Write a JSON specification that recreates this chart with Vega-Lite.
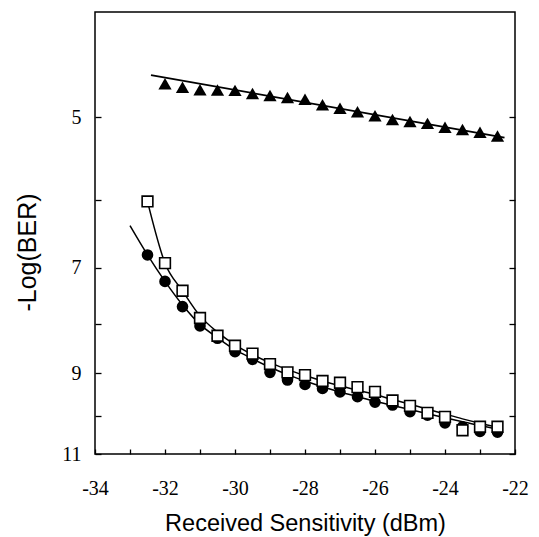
{
  "$schema": "https://vega.github.io/schema/vega-lite/v6.json",
  "width": 420,
  "height": 442,
  "autosize": "none",
  "padding": {"left": 95, "top": 12, "right": 24, "bottom": 83},
  "background": "white",
  "config": {
    "view": {"stroke": "black", "strokeWidth": 1.5},
    "axis": {"domain": false, "grid": false, "tickColor": "black", "tickWidth": 1.3, "labelColor": "black", "titleColor": "black"}
  },
  "data": {
    "values": [
      {"series": "tri", "x": -32, "y": 4.652},
      {"series": "tri", "x": -31.5, "y": 4.686},
      {"series": "tri", "x": -31, "y": 4.711},
      {"series": "tri", "x": -30.5, "y": 4.715},
      {"series": "tri", "x": -30, "y": 4.718},
      {"series": "tri", "x": -29.5, "y": 4.75},
      {"series": "tri", "x": -29, "y": 4.77},
      {"series": "tri", "x": -28.5, "y": 4.79},
      {"series": "tri", "x": -28, "y": 4.808},
      {"series": "tri", "x": -27.5, "y": 4.865},
      {"series": "tri", "x": -27, "y": 4.903},
      {"series": "tri", "x": -26.5, "y": 4.939},
      {"series": "tri", "x": -26, "y": 4.982},
      {"series": "tri", "x": -25.5, "y": 5.023},
      {"series": "tri", "x": -25, "y": 5.045},
      {"series": "tri", "x": -24.5, "y": 5.066},
      {"series": "tri", "x": -24, "y": 5.11},
      {"series": "tri", "x": -23.5, "y": 5.134},
      {"series": "tri", "x": -23, "y": 5.165},
      {"series": "tri", "x": -22.5, "y": 5.208},
      {"series": "circ", "x": -32.5, "y": 6.8},
      {"series": "circ", "x": -32, "y": 7.23},
      {"series": "circ", "x": -31.5, "y": 7.67},
      {"series": "circ", "x": -31, "y": 8.03},
      {"series": "circ", "x": -30.5, "y": 8.27},
      {"series": "circ", "x": -30, "y": 8.54},
      {"series": "circ", "x": -29.5, "y": 8.7},
      {"series": "circ", "x": -29, "y": 8.98},
      {"series": "circ", "x": -28.5, "y": 9.15},
      {"series": "circ", "x": -28, "y": 9.25},
      {"series": "circ", "x": -27.5, "y": 9.34},
      {"series": "circ", "x": -27, "y": 9.42},
      {"series": "circ", "x": -26.5, "y": 9.53},
      {"series": "circ", "x": -26, "y": 9.66},
      {"series": "circ", "x": -25.5, "y": 9.73},
      {"series": "circ", "x": -25, "y": 9.89},
      {"series": "circ", "x": -24.5, "y": 9.98},
      {"series": "circ", "x": -24, "y": 10.17},
      {"series": "circ", "x": -23.5, "y": 10.27},
      {"series": "circ", "x": -23, "y": 10.39},
      {"series": "circ", "x": -22.5, "y": 10.41},
      {"series": "sq", "x": -32.5, "y": 6.02},
      {"series": "sq", "x": -32, "y": 6.93},
      {"series": "sq", "x": -31.5, "y": 7.39},
      {"series": "sq", "x": -31, "y": 7.88},
      {"series": "sq", "x": -30.5, "y": 8.22},
      {"series": "sq", "x": -30, "y": 8.42},
      {"series": "sq", "x": -29.5, "y": 8.58},
      {"series": "sq", "x": -29, "y": 8.8},
      {"series": "sq", "x": -28.5, "y": 8.98},
      {"series": "sq", "x": -28, "y": 9.04},
      {"series": "sq", "x": -27.5, "y": 9.17},
      {"series": "sq", "x": -27, "y": 9.21},
      {"series": "sq", "x": -26.5, "y": 9.31},
      {"series": "sq", "x": -26, "y": 9.42},
      {"series": "sq", "x": -25.5, "y": 9.62},
      {"series": "sq", "x": -25, "y": 9.75},
      {"series": "sq", "x": -24.5, "y": 9.92},
      {"series": "sq", "x": -24, "y": 10.02},
      {"series": "sq", "x": -23.5, "y": 10.36},
      {"series": "sq", "x": -23, "y": 10.27},
      {"series": "sq", "x": -22.5, "y": 10.27},
      {"series": "trifit", "x": -32.4, "y": 4.567},
      {"series": "trifit", "x": -22.3, "y": 5.225},
      {"series": "circfit", "x": -33, "y": 6.36},
      {"series": "circfit", "x": -32.5, "y": 6.8},
      {"series": "circfit", "x": -32, "y": 7.23},
      {"series": "circfit", "x": -31.5, "y": 7.64},
      {"series": "circfit", "x": -31, "y": 8.0},
      {"series": "circfit", "x": -30.5, "y": 8.26},
      {"series": "circfit", "x": -30, "y": 8.5},
      {"series": "circfit", "x": -29.5, "y": 8.69},
      {"series": "circfit", "x": -29, "y": 8.87},
      {"series": "circfit", "x": -28.5, "y": 9.03},
      {"series": "circfit", "x": -28, "y": 9.17},
      {"series": "circfit", "x": -27.5, "y": 9.3},
      {"series": "circfit", "x": -27, "y": 9.42},
      {"series": "circfit", "x": -26.5, "y": 9.53},
      {"series": "circfit", "x": -26, "y": 9.64},
      {"series": "circfit", "x": -25.5, "y": 9.74},
      {"series": "circfit", "x": -25, "y": 9.84},
      {"series": "circfit", "x": -24.5, "y": 9.94},
      {"series": "circfit", "x": -24, "y": 10.04},
      {"series": "circfit", "x": -23.5, "y": 10.14},
      {"series": "circfit", "x": -23, "y": 10.24},
      {"series": "circfit", "x": -22.5, "y": 10.33},
      {"series": "sqfit", "x": -32.5, "y": 6.02},
      {"series": "sqfit", "x": -32, "y": 6.93},
      {"series": "sqfit", "x": -31.5, "y": 7.39},
      {"series": "sqfit", "x": -31, "y": 7.84},
      {"series": "sqfit", "x": -30.5, "y": 8.15},
      {"series": "sqfit", "x": -30, "y": 8.4},
      {"series": "sqfit", "x": -29.5, "y": 8.6},
      {"series": "sqfit", "x": -29, "y": 8.77},
      {"series": "sqfit", "x": -28.5, "y": 8.92},
      {"series": "sqfit", "x": -28, "y": 9.05},
      {"series": "sqfit", "x": -27.5, "y": 9.17},
      {"series": "sqfit", "x": -27, "y": 9.28},
      {"series": "sqfit", "x": -26.5, "y": 9.38},
      {"series": "sqfit", "x": -26, "y": 9.48},
      {"series": "sqfit", "x": -25.5, "y": 9.6},
      {"series": "sqfit", "x": -25, "y": 9.71},
      {"series": "sqfit", "x": -24.5, "y": 9.83},
      {"series": "sqfit", "x": -24, "y": 9.95},
      {"series": "sqfit", "x": -23.5, "y": 10.07},
      {"series": "sqfit", "x": -23, "y": 10.18},
      {"series": "sqfit", "x": -22.5, "y": 10.28}
    ]
  },
  "encoding": {
    "x": {
      "field": "x", "type": "quantitative",
      "scale": {"domain": [-34, -22], "nice": false, "zero": false},
      "axis": {
        "values": [-34, -33, -32, -31, -30, -29, -28, -27, -26, -25, -24, -23, -22],
        "labelExpr": "datum.value % 2 === 0 ? '-' + abs(datum.value) : ''",
        "tickSize": -5,
        "labelPadding": 29,
        "labelFont": "Liberation Serif", "labelFontSize": 20,
        "labelFlush": false,
        "title": "Received Sensitivity (dBm)",
        "titleFont": "Liberation Sans", "titleFontSize": 23.5, "titleFontWeight": "normal",
        "titleY": 69, "titleBaseline": "middle"
      }
    },
    "y": {
      "field": "y", "type": "quantitative",
      "scale": {"type": "pow", "exponent": -0.2, "domain": [4, 11], "nice": false, "zero": false, "reverse": true},
      "axis": null
    }
  },
  "resolve": {"axis": {"y": "independent"}},
  "layer": [
    {
      "transform": [{"filter": "datum.series === 'circfit'"}],
      "mark": {"type": "line", "color": "black", "strokeWidth": 1.5, "interpolate": "monotone"},
      "encoding": {
        "y": {
          "field": "y", "type": "quantitative",
          "scale": {"type": "pow", "exponent": -0.2, "domain": [4, 11], "nice": false, "zero": false, "reverse": true},
          "axis": {
            "values": [5, 6, 7, 8, 9, 10, 11],
            "labelExpr": "datum.value % 2 === 1 ? '' + datum.value : ''",
            "tickSize": -6,
            "labelPadding": 20,
            "labelFont": "Liberation Serif", "labelFontSize": 20,
            "labelFlush": false,
            "title": "-Log(BER)",
            "titleFont": "Liberation Sans", "titleFontSize": 25, "titleFontWeight": "normal",
            "titleX": -68, "titleY": 240, "titleAlign": "center", "titleBaseline": "middle", "titleAngle": -90
          }
        }
      }
    },
    {
      "transform": [{"filter": "datum.series === 'sqfit'"}],
      "mark": {"type": "line", "color": "black", "strokeWidth": 1.5, "interpolate": "monotone"}
    },
    {
      "transform": [{"filter": "datum.series === 'trifit'"}],
      "mark": {"type": "line", "color": "black", "strokeWidth": 1.8},
      "encoding": {
        "y": {
          "field": "y", "type": "quantitative",
          "scale": {"type": "pow", "exponent": -0.2, "domain": [4, 11], "nice": false, "zero": false, "reverse": true},
          "axis": {
            "orient": "right",
            "values": [5, 6, 7, 8, 9, 10, 11],
            "labels": false,
            "tickSize": -6,
            "title": null
          }
        }
      }
    },
    {
      "transform": [{"filter": "datum.series === 'circ'"}],
      "mark": {"type": "point", "shape": "circle", "filled": true, "color": "black", "opacity": 1, "size": 135}
    },
    {
      "transform": [{"filter": "datum.series === 'sq'"}],
      "mark": {"type": "point", "shape": "square", "filled": false, "fill": "white", "stroke": "black", "strokeWidth": 1.6, "opacity": 1, "size": 115}
    },
    {
      "transform": [{"filter": "datum.series === 'tri'"}],
      "mark": {"type": "point", "shape": "triangle-up", "filled": true, "color": "black", "opacity": 1, "size": 175}
    }
  ]
}
